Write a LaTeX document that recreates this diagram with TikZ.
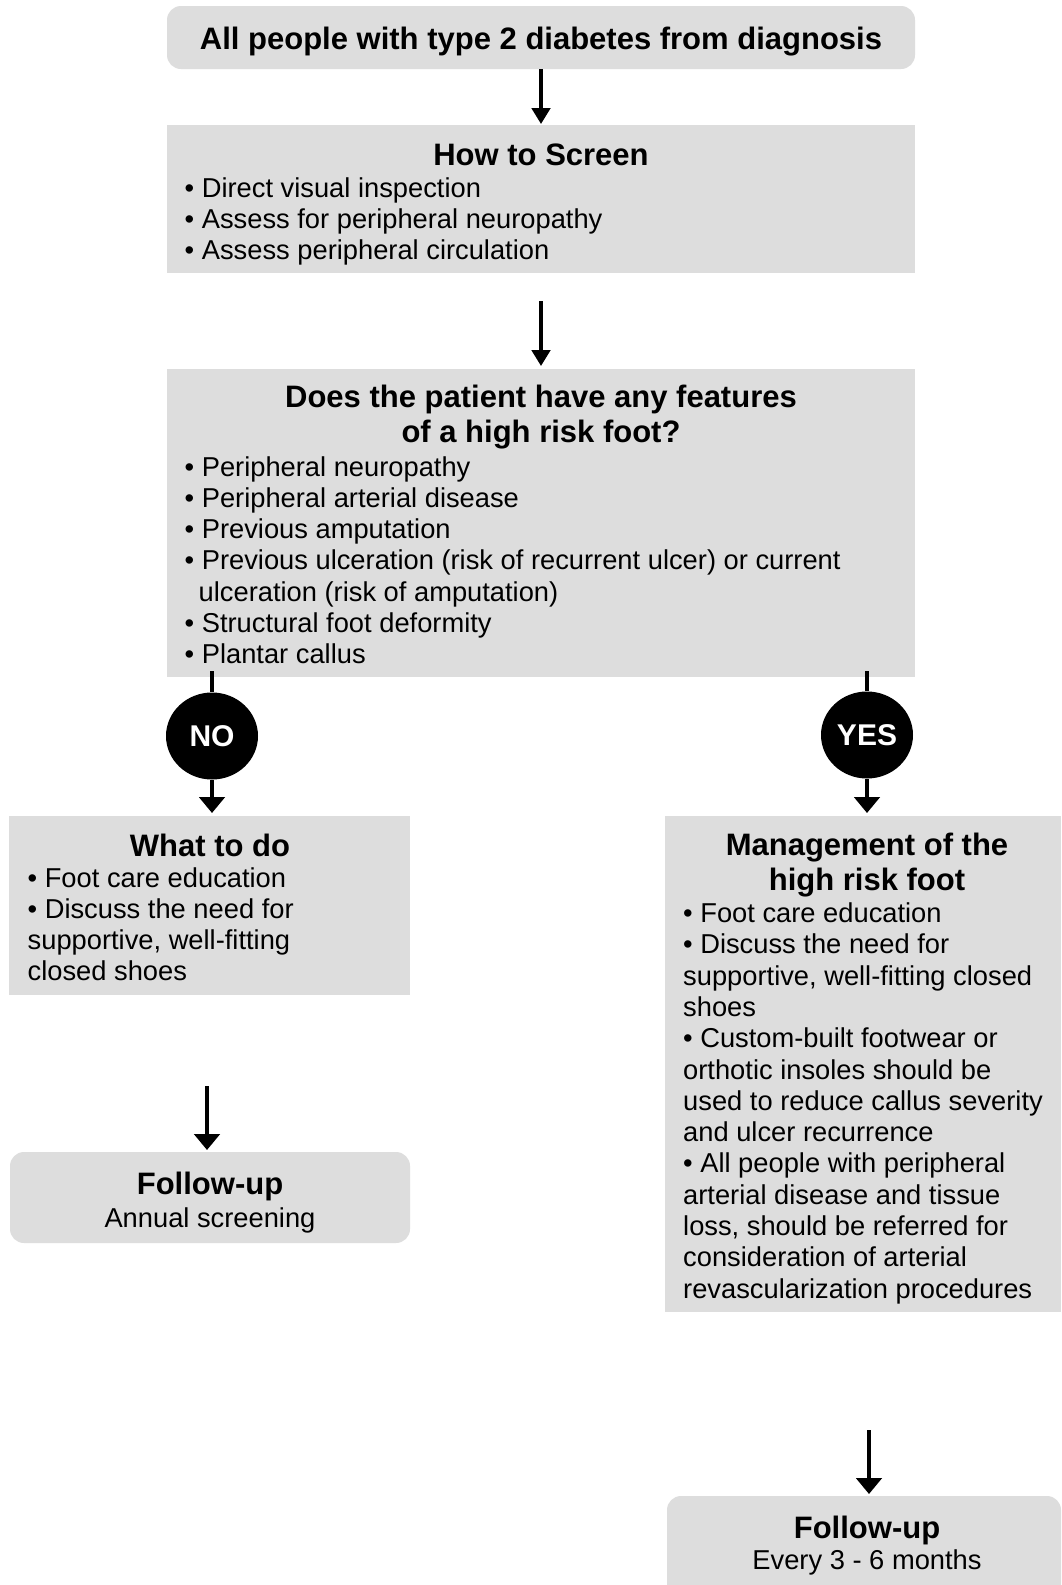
\documentclass[tikz,border=0pt]{standalone}
\usepackage{fontspec}
\setmainfont{Liberation Sans}
\usetikzlibrary{arrows.meta,shapes.geometric,calc}
\definecolor{boxgray}{RGB}{221,221,221}
\newcommand\leftblock[1]{\vtop{\baselineskip=31.3pt\lineskiplimit=-100pt\halign{##\hfil\cr#1\crcr}}}
\newcommand\centerblock[1]{\vtop{\baselineskip=35pt\lineskiplimit=-100pt\halign{\hfil##\hfil\cr#1\crcr}}}
\begin{document}
\begin{tikzpicture}[x=1pt,y=-1pt,
  box/.style={fill=boxgray, draw=none, inner sep=0pt, outer sep=0pt},
  rbox/.style={box, rounded corners=14pt},
  body/.style={inner sep=0pt, anchor=base west, font=\fontsize{27.3}{31.3}\selectfont},
  bodyc/.style={body, anchor=base},
  head/.style={inner sep=0pt, anchor=base, font=\fontsize{31}{35}\selectfont\bfseries},
  conn/.style={line width=3.5pt},
  arrn/.style={conn, -{Triangle[length=16pt,width=18.5pt]}},
  arrw/.style={conn, -{Triangle[length=16pt,width=25.5pt]}},
  dec/.style={ellipse, fill=black, minimum width=92pt, minimum height=87pt, inner sep=0pt, text=white, font=\fontsize{30}{34}\selectfont\bfseries}
]
\clip (0,0) rectangle (1061,1585);
\fill[white] (0,0) rectangle (1061,1585);

% boxes
\node[rbox, minimum width=748pt, minimum height=63pt] (title) at (541,37.5) {};
\node[box, minimum width=748pt, minimum height=148pt] (screen) at (541,199) {};
\node[box, minimum width=748pt, minimum height=308pt] (features) at (541,523) {};
\node[box, minimum width=401pt, minimum height=179pt] (whattodo) at (209.5,905.5) {};
\node[box, minimum width=396pt, minimum height=496pt] (mgmt) at (863,1064) {};
\node[rbox, minimum width=400pt, minimum height=91pt] (fupno) at (210,1197.5) {};
\node[rbox, minimum width=394pt, minimum height=114pt] (fupyes) at (864,1553) {};

% texts
\node[head] (t0) at (541,49.5) {All people with type 2 diabetes from diagnosis};
\node[head] (t1) at (541,165.5) {How to Screen};
\node[body] (t1b) at (184.5,197) {\leftblock{• Direct visual inspection\cr
 • Assess for peripheral neuropathy\cr
 • Assess peripheral circulation}};
\node[head] (t2) at (541,407.5) {\centerblock{Does the patient have any features\cr of a high risk foot?}};
\node[body] (t2b) at (184.5,476) {\leftblock{• Peripheral neuropathy\cr
 • Peripheral arterial disease\cr
 • Previous amputation\cr
 • Previous ulceration (risk of recurrent ulcer) or current\cr
 \kern14pt ulceration (risk of amputation)\cr
 • Structural foot deformity\cr
 • Plantar callus}};
\node[head] (t3) at (210,856.5) {What to do};
\node[body] (t3b) at (27.5,887) {\leftblock{• Foot care education\cr
 • Discuss the need for\cr
 supportive, well-fitting\cr
 closed shoes}};
\node[head] (t4) at (867,855) {\centerblock{Management of the\cr high risk foot}};
\node[body] (t4b) at (683,922.5) {\leftblock{• Foot care education\cr
 • Discuss the need for\cr
 supportive, well-fitting closed\cr
 shoes\cr
 • Custom-built footwear or\cr
 orthotic insoles should be\cr
 used to reduce callus severity\cr
 and ulcer recurrence\cr
 • All people with peripheral\cr
 arterial disease and tissue\cr
 loss, should be referred for\cr
 consideration of arterial\cr
 revascularization procedures}};
\node[head] (t5) at (210,1194) {Follow-up};
\node[bodyc] (t5b) at (210,1227.5) {Annual screening};
\node[head] (t6) at (867,1538.5) {Follow-up};
\node[bodyc] (t6b) at (867,1569) {Every 3 - 6 months};

% connectors
\coordinate (s2) at (541,301);
\coordinate (noA) at (212,671);
\coordinate (yesA) at (867,671);
\coordinate (noB) at (207,1086);
\coordinate (yesB) at (869,1430);

\draw[arrn, shorten >=1pt] (title.south) -- (screen.north);
\draw[arrn, shorten >=3pt] (s2) -- (s2 |- features.north);

\node[dec] (no) at (212,736) {NO};
\node[dec] (yes) at (867,735) {YES};
\draw[conn] (noA) -- (no);
\draw[conn] (yesA) -- (yes);
\draw[arrw, shorten >=3pt] (no) -- (no |- whattodo.north);
\draw[arrw, shorten >=3pt] (yes) -- (yes |- mgmt.north);
\draw[arrw, shorten >=2pt] (noB) -- (noB |- fupno.north);
\draw[arrw, shorten >=2pt] (yesB) -- (yesB |- fupyes.north);
\end{tikzpicture}
\end{document}
